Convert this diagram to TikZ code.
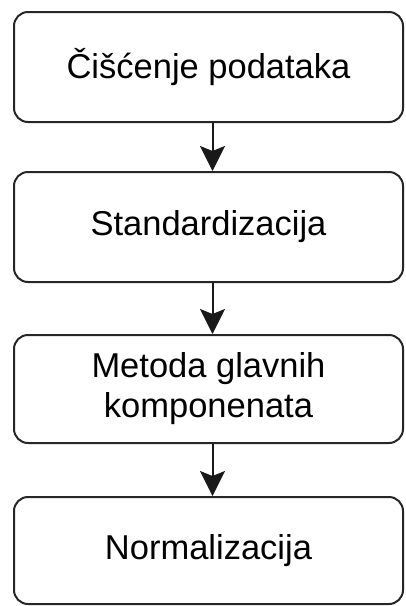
\documentclass[tikz,border=0pt]{standalone}
\usepackage{fontspec}
\setmainfont{Liberation Sans}
\usetikzlibrary{arrows.meta}
\begin{document}
\begin{tikzpicture}[x=1pt,y=-1pt,
  stepbox/.style={draw=black!85, line width=2pt, rounded corners=14pt,
    minimum width=389pt, inner sep=0pt, align=center,
    font=\fontsize{34.5}{40}\selectfont, text=black},
  conn/.style={draw=black!90, line width=2pt,
    -{Stealth[length=25pt,width=25pt,inset=5pt]}}]
\useasboundingbox (0,0) rectangle (405,606);
\node[stepbox, minimum height=110pt] (a) at (208.5,67) {Čišćenje podataka};
\node[stepbox, minimum height=110pt] (b) at (208.5,227) {Standardizacija};
\node[stepbox, minimum height=108pt] (c) at (208.5,389) {Metoda glavnih\\komponenata};
\node[stepbox, minimum height=107pt] (d) at (208.5,550.5) {Normalizacija};
\draw[conn] ([xshift=4pt]a.south) -- ([xshift=4pt]b.north);
\draw[conn] ([xshift=4pt]b.south) -- ([xshift=4pt]c.north);
\draw[conn] ([xshift=4pt]c.south) -- ([xshift=4pt]d.north);
\end{tikzpicture}
\end{document}
